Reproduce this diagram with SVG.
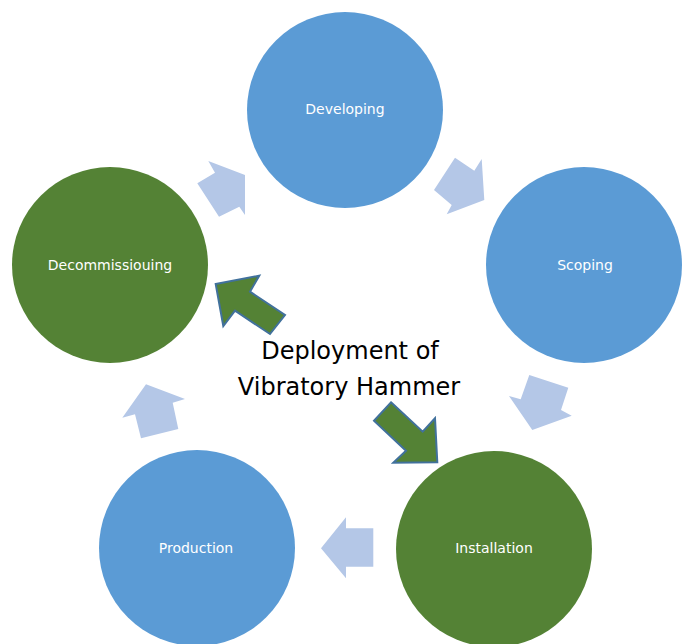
<svg xmlns="http://www.w3.org/2000/svg" width="682" height="644" viewBox="0 0 682 644">
  <style>
    .blue { fill: #5B9BD5; }
    .green { fill: #548235; }
    .label { font-family: "DejaVu Sans", Verdana, sans-serif; font-size: 14px; fill: #FFFFFF; text-anchor: middle; }
    .step { fill: #B4C7E7; }
    .lead { fill: #548235; stroke: #41719C; stroke-width: 2; stroke-linejoin: miter; }
    .title { font-family: "DejaVu Sans", Verdana, sans-serif; font-size: 24px; fill: #000000; text-anchor: middle; }
  </style>
  <rect width="682" height="644" fill="#FFFFFF"/>

  <!-- cycle arrows between stages -->
  <g id="connectors">
    <polygon class="step" points="208.3,161 245,175 245,215 239.3,206.7 219,216.7 197.3,183.3 215,172.7"/>
    <polygon class="step" points="455,157.7 474.3,170.7 481.7,159 484.3,200 446.7,214.3 451.7,205 434,190"/>
    <polygon class="step" points="529.3,375 568.3,387.7 561,410 571.7,415.7 532.3,430 509,396 520.7,399.3"/>
    <polygon class="step" points="373.3,528.3 373.3,566.7 346,566.7 346,578.3 321,548.3 346,517.3 346,528.3"/>
    <polygon class="step" points="146,384.3 185,399 172.7,402.7 178.3,429 141,438.3 135,414.3 122.3,417.7"/>
    <polygon class="lead" points="215.7,284 259.3,275.7 250,291.7 285,315 270,334 235,310.7 223.3,326"/>
    <polygon class="lead" points="391,402.3 422.7,431.7 435,418.3 437.3,462.3 393.3,462.7 406,450.7 374,420.7"/>
  </g>

  <g id="developing">
    <circle class="blue" cx="345" cy="110" r="98"/>
    <text class="label" x="345" y="114">Developing</text>
  </g>
  <g id="scoping">
    <circle class="blue" cx="584" cy="265" r="98"/>
    <text class="label" x="585" y="270">Scoping</text>
  </g>
  <g id="installation">
    <circle class="green" cx="494" cy="549" r="98"/>
    <text class="label" x="494" y="553">Installation</text>
  </g>
  <g id="production">
    <circle class="blue" cx="197" cy="548" r="98"/>
    <text class="label" x="196" y="553">Production</text>
  </g>
  <g id="decommissioning">
    <circle class="green" cx="110" cy="265" r="98"/>
    <text class="label" x="110" y="270">Decommissiouing</text>
  </g>

  <g id="center">
    <text class="title" x="350" y="359">Deployment of</text>
    <text class="title" x="349" y="395">Vibratory Hammer</text>
  </g>
</svg>
